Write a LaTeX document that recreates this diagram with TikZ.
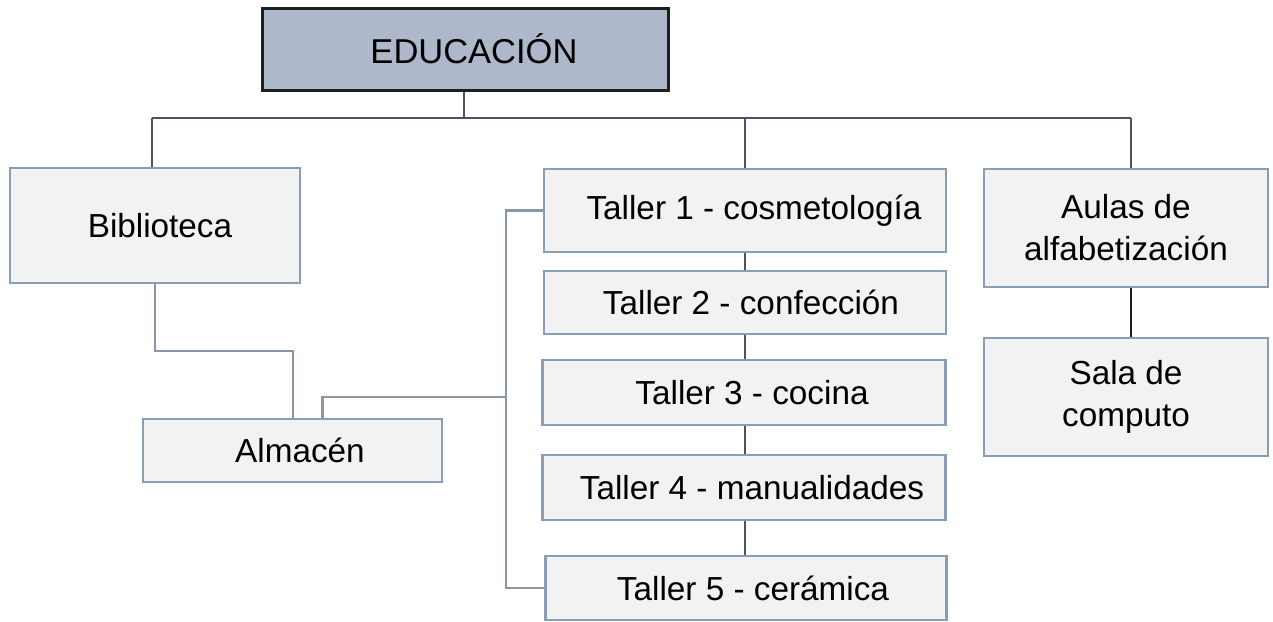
\documentclass[tikz,border=0pt]{standalone}
\usepackage{fontspec}
\setmainfont{Liberation Sans}
\begin{document}
\begin{tikzpicture}[x=1pt,y=-1pt,
  box/.style={draw=boxline, fill=boxfill, line width=2.4pt, inner sep=0pt, align=center,
    font=\fontsize{33.3}{42}\selectfont},
  headbox/.style={draw=black!88, fill=headfill, line width=3pt, inner sep=0pt,
    font=\fontsize{34.5}{40}\selectfont},
  mainline/.style={draw=darkline, line width=2.8pt},
  thinline/.style={draw=greyline, line width=2.2pt}]
\definecolor{boxline}{HTML}{8B9DB5}
\definecolor{boxfill}{HTML}{F2F2F2}
\definecolor{headfill}{HTML}{ADB8CA}
\definecolor{darkline}{HTML}{4A5466}
\definecolor{greyline}{HTML}{8A96A6}
\useasboundingbox (0,0) rectangle (1273,621);
\node[headbox, minimum width=406pt, minimum height=82pt] (edu) at (465,49) {\hspace*{18pt}EDUCACIÓN};
\node[box, minimum width=290pt, minimum height=115pt] (bib) at (155,225.5) {\hspace*{10pt}Biblioteca};
\node[box, minimum width=299pt, minimum height=63pt] (alm) at (292.5,450.5) {\hspace*{15pt}Almacén};
\node[box, minimum width=402pt, minimum height=83pt] (t1) at (745,210.5) {\hspace*{18pt}Taller 1 - cosmetología};
\node[box, minimum width=402pt, minimum height=63pt] (t2) at (745,302.5) {\hspace*{12pt}Taller 2 - confección};
\node[box, minimum width=403pt, minimum height=65pt] (t3) at (744,392.5) {\hspace*{16pt}Taller 3 - cocina};
\node[box, minimum width=403pt, minimum height=65pt] (t4) at (744,487.5) {\hspace*{16pt}Taller 4 - manualidades};
\node[box, minimum width=401pt, minimum height=64pt] (t5) at (746,588) {\hspace*{14pt}Taller 5 - cerámica};
\node[box, minimum width=284pt, minimum height=118pt] (aulas) at (1126,228) {Aulas de\\alfabetización};
\node[box, minimum width=284pt, minimum height=118pt] (sala) at (1126,397) {Sala de\\computo};
% top bus
\coordinate (bus) at (464,118);
\coordinate (busL) at (152,118);
\coordinate (busR) at (1131,118);
\coordinate (busM) at (745,118);
\draw[mainline] (edu.south -| bus) -- (bus);
\draw[mainline] (busL) -- (busR);
\draw[mainline] (busL) -- (bib.north -| busL);
\draw[mainline] (busM) -- (t1.north);
\draw[mainline] (busR) -- (aulas.north -| busR);
% taller chain
\draw[mainline] (t1.south) -- (t2.north -| t1.south);
\draw[mainline] (t2.south) -- (t3.north -| t2.south);
\draw[mainline] (t3.south -| t2.south) -- (t4.north -| t2.south);
\draw[mainline] (t4.south -| t2.south) -- (t5.north -| t2.south);
% aulas to sala
\draw[draw=black!90, line width=2.6pt] ([xshift=5pt]aulas.south) -- ([xshift=5pt]sala.north);
% biblioteca to almacen
\coordinate (j1) at (293,351);
\draw[thinline] (bib.south) |- (j1) -- (alm.north -| j1);
% spine
\coordinate (sp) at (506,397);
\draw[thinline] (t1.west) -| (sp) |- (t5.west);
\draw[thinline] ([xshift=30pt]alm.north) |- (sp);
\end{tikzpicture}
\end{document}
